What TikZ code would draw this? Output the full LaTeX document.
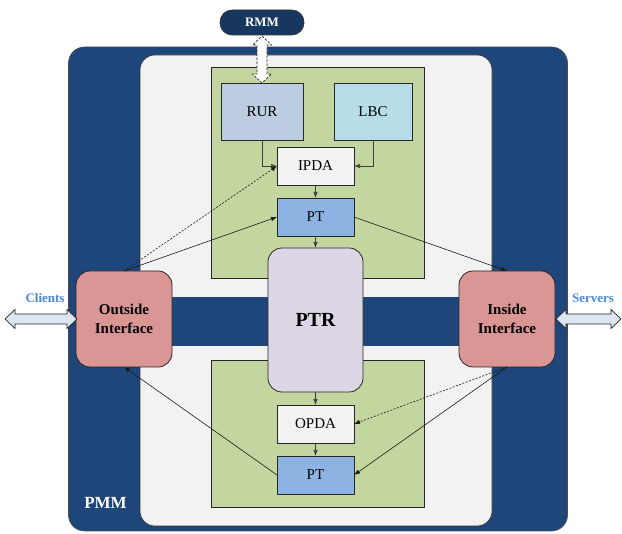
\documentclass[tikz,border=0pt]{standalone}
\usepackage{fontspec}
\setmainfont{Liberation Serif}
\usetikzlibrary{arrows.meta}
\definecolor{pmmblue}{HTML}{1F467B}
\definecolor{rmmblue}{HTML}{17375E}
\definecolor{panelgrey}{HTML}{F2F2F2}
\definecolor{olivegreen}{HTML}{C4D69F}
\definecolor{rurblue}{HTML}{BCCCE1}
\definecolor{lbccyan}{HTML}{B7DDE8}
\definecolor{ptblue}{HTML}{8DB3E2}
\definecolor{ptrlav}{HTML}{DDD7E5}
\definecolor{ifrose}{HTML}{D99694}
\definecolor{labelblue}{HTML}{4A89D8}
\definecolor{arrowfill}{HTML}{DCE6F2}
\begin{document}
\begin{tikzpicture}[x=1pt,y=-1pt,
  unit/.style={draw=black!85, line width=0.8pt, inner sep=0pt, outer sep=0pt,
    align=center, font=\fontsize{15}{18}\selectfont},
  smallbox/.style={unit, minimum width=77pt, minimum height=38pt},
  iface/.style={unit, fill=ifrose, rounded corners=14pt, minimum width=96pt,
    minimum height=96pt, font=\fontsize{15}{19}\selectfont\bfseries},
  link/.style={-{Latex[length=6pt,width=4.5pt]}, line width=0.6pt, draw=black!90},
  dashlink/.style={link, dash pattern=on 2pt off 1.5pt},
  blockarrow/.style={draw=black!85, line width=0.7pt, fill=arrowfill, line join=miter},
  sidelabel/.style={text=labelblue, font=\fontsize{13}{15}\selectfont\bfseries}]
\useasboundingbox (0,0) rectangle (622,534);

% PMM frame and inner panel
\node[fill=pmmblue, draw=black!70, line width=0.6pt, rounded corners=16pt,
  minimum width=499pt, minimum height=484pt, inner sep=0pt] (pmm) at (318,289) {};
\node[fill=panelgrey, draw=black!80, line width=0.6pt, rounded corners=15pt,
  minimum width=352pt, minimum height=471pt, inner sep=0pt] (panel) at (316,290.5) {};
\fill[pmmblue] (140,297) rectangle (492,346);
\node[text=white, font=\fontsize{17}{20}\selectfont\bfseries] (pmmlabel) at (105.5,503) {PMM};

% green groups
\node[fill=olivegreen, draw=black!85, line width=0.7pt, minimum width=213pt,
  minimum height=211pt, inner sep=0pt] (ingroup) at (317.5,172.5) {};
\node[fill=olivegreen, draw=black!85, line width=0.7pt, minimum width=213pt,
  minimum height=147pt, inner sep=0pt] (outgroup) at (317.5,433.5) {};

% units
\node[unit, fill=rurblue, minimum width=82pt, minimum height=57pt] (rur) at (262,111.5) {RUR};
\node[unit, fill=lbccyan, minimum width=78pt, minimum height=57pt] (lbc) at (373,111.5) {LBC};
\node[smallbox, fill=panelgrey] (ipda) at (315.5,166) {IPDA};
\node[smallbox, fill=ptblue] (pt1) at (315.5,217) {PT};
\node[unit, fill=ptrlav, rounded corners=14pt, minimum width=95pt, minimum height=144pt,
  font=\fontsize{20}{24}\selectfont\bfseries] (ptr) at (315.5,320) {PTR};
\node[smallbox, fill=panelgrey] (opda) at (315.5,424) {OPDA};
\node[smallbox, fill=ptblue] (pt2) at (315.5,475) {PT};

\node[iface] (oi) at (124,319) {Outside\\Interface};
\node[iface] (ii) at (507,319) {Inside\\Interface};

\node[fill=rmmblue, draw=black!80, line width=0.6pt, rounded corners=12pt,
  minimum width=84pt, minimum height=25pt, inner sep=0pt, text=white,
  font=\fontsize{13}{15}\selectfont\bfseries] (rmm) at (262,22.5) {RMM};

% block arrows
\draw[blockarrow, fill=white, dash pattern=on 2.5pt off 1.5pt]
  (262,36) -- (271.5,45) -- (267,45) -- (267,74) -- (271.5,74) -- (262,83)
  -- (252.5,74) -- (257,74) -- (257,45) -- (252.5,45) -- cycle;
\draw[blockarrow] (5,319) -- (15,309.5) -- (15,314) -- (67,314) -- (67,309.5)
  -- (77,319) -- (67,328.5) -- (67,324) -- (15,324) -- (15,328.5) -- cycle;
\draw[blockarrow] (556,319) -- (566,309.5) -- (566,314) -- (611,314) -- (611,309.5)
  -- (621,319) -- (611,328.5) -- (611,324) -- (566,324) -- (566,328.5) -- cycle;
\node[sidelabel] (clients) at (45,298) {Clients};
\node[sidelabel] (servers) at (593,298) {Servers};

% connectors
\draw[link, draw=black!75] (rur.south) |- (ipda.west);
\draw[link, draw=black!75] (lbc.south) |- (ipda.east);
\draw[link, draw=black!75] (ipda.south) -- (pt1.north);
\draw[link, draw=black!75] (pt1.south) -- (ptr.north);
\draw[link, draw=black!75] (ptr.south) -- (opda.north);
\draw[link, draw=black!75] (opda.south) -- (pt2.north);
\draw[dashlink] (oi.north) -- (ipda.west);
\draw[link] (oi.north) -- (pt1.west);
\draw[link] (pt1.east) -- (ii.north);
\draw[dashlink] (ii.south) -- (opda.east);
\draw[link] (ii.south) -- (pt2.east);
\draw[link] (pt2.west) -- (oi.south);
\end{tikzpicture}
\end{document}
